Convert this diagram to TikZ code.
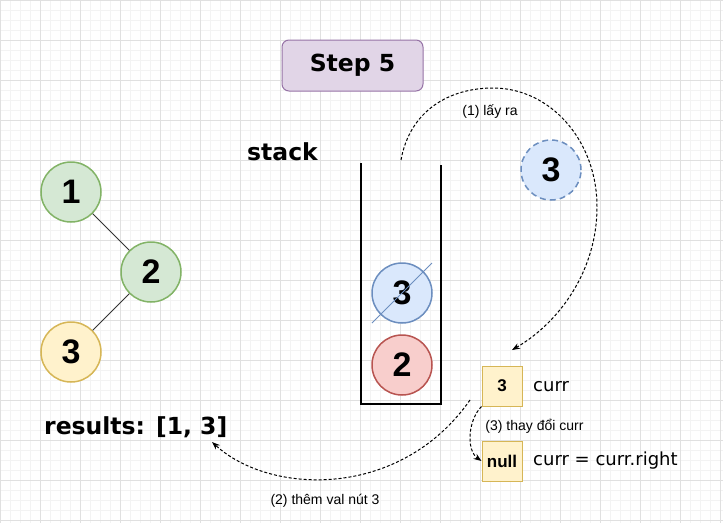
\documentclass[tikz,border=0pt]{standalone}
\usepackage{fontspec}
\setmainfont{Liberation Sans}
\newfontfamily\verdfont{DejaVu Sans}
\usepackage{tikz}
\usetikzlibrary{calc}
\usetikzlibrary{arrows.meta}
\usepackage{xcolor}
\definecolor{gridminor}{HTML}{F3F3F3}
\definecolor{gridmajor}{HTML}{E0E0E0}
\definecolor{greenF}{HTML}{D5E8D4}
\definecolor{greenD}{HTML}{82B366}
\definecolor{yellowF}{HTML}{FFF2CC}
\definecolor{yellowD}{HTML}{D6B656}
\definecolor{blueF}{HTML}{DAE8FC}
\definecolor{blueD}{HTML}{6C8EBF}
\definecolor{redF}{HTML}{F8CECC}
\definecolor{redD}{HTML}{B85450}
\definecolor{purpleF}{HTML}{E1D5E7}
\definecolor{purpleD}{HTML}{9673A6}

\begin{document}
\begin{tikzpicture}[x=1pt,y=-1pt,
  ball/.style={circle,minimum size=60pt,inner sep=0pt,line width=1.5pt,
    font=\fontsize{34}{34}\selectfont\bfseries},
  cell/.style={rectangle,minimum size=40pt,inner sep=0pt,line width=1pt,
    draw=yellowD,fill=yellowF,font=\fontsize{17}{17}\selectfont\bfseries},
  bigtxt/.style={font=\verdfont\fontsize{23.5}{23.5}\selectfont\bfseries},
  vartxt/.style={anchor=west,inner sep=0pt,font=\verdfont\fontsize{18}{18}\selectfont},
  smalltxt/.style={inner sep=0pt,font=\fontsize{14}{14}\selectfont},
  flow/.style={densely dashed,line width=1pt,-{Stealth[length=8pt,width=6pt]}}]

 % ================================================================
 % background grid
 % ================================================================
	\useasboundingbox (0,0) rectangle (723,523);
	\fill[white] (0,0) rectangle (723,523);
	\foreach \gx in {0,10,...,720} \draw[gridminor,line width=0.8pt] (\gx,0) -- (\gx,523);
	\foreach \gy in {0,10,...,520} \draw[gridminor,line width=0.8pt] (0,\gy) -- (723,\gy);
	\foreach \gx in {0,40,...,720} \draw[gridmajor,line width=0.8pt] (\gx,0) -- (\gx,523);
	\foreach \gy in {0,40,...,520} \draw[gridmajor,line width=0.8pt] (0,\gy) -- (723,\gy);

        % title
        \node [bigtxt,draw=purpleD,fill=purpleF,rounded corners=7pt,line width=1pt,
               minimum width=141pt,minimum height=51pt] (title) at (352.5,65.5) {Step 5};

        % tree
        \node [ball,draw=greenD,fill=greenF] (n1) at (71,192) {1};
        \node [ball,draw=greenD,fill=greenF] (n2) at (151,272) {2};
        \node [ball,draw=yellowD,fill=yellowF] (n3) at (71,352) {3};
        \draw[black!80,line width=0.9pt] (n1) -- (n2);
        \draw[black!80,line width=0.9pt] (n2) -- (n3);

        % results
        \node [bigtxt,anchor=west,inner sep=0pt] (results) at (44,427) {results: [1, 3]};

        % stack
        \node [bigtxt,anchor=west,inner sep=0pt] (stacklbl) at (247,152) {stack};
        \draw[line width=2.2pt] (361,163) -- (361,404) -- (441,404) -- (441,165);
        \node [ball,draw=blueD,fill=blueF] (s3) at (402,293) {3};
        \node [ball,draw=redD,fill=redF] (s2) at (402,365) {2};
        \draw[blueD,line width=0.9pt] ($(s3.center)+(-30,30)$) -- ($(s3.center)+(30,-30)$);

        % popped node
        \node [ball,draw=blueD,fill=blueF,dash pattern=on 6pt off 4pt] (popped) at (551,170) {3};

        % curr boxes
        \node [cell] (currbox) at (502,386) {3};
        \node [cell] (nullbox) at (502,461) {null};
        \node [vartxt] (currlbl) at (533,387) {curr};
        \node [vartxt] (nextlbl) at (533,461) {curr = curr.right};

        % (1) pop
        \coordinate (popfrom) at (401,160);
        \coordinate (popto) at (512,350);
        \draw[flow] (popfrom) .. controls (410,110) and (450,88) .. (493,88)
                    .. controls (550,88) and (597,140) .. (597,207)
                    .. controls (597,270) and (560,322) .. (popto);
        \node [smalltxt] (lbl1) at (490,112) {(1) lấy ra};

        % (2) add value
        \coordinate (addfrom) at (470,400);
        \coordinate (addto) at (212,442);
        \draw[flow] (addfrom) .. controls (400,500) and (270,495) .. (addto);
        \node [smalltxt] (lbl2) at (325,501) {(2) thêm val nút 3};

        % (3) change curr
        \draw[flow] (currbox.south west) .. controls (468,420) and (466,450) .. (nullbox.west);
        \node [smalltxt] (lbl3) at (534.5,426) {(3) thay đổi curr};

\end{tikzpicture}
\end{document}
